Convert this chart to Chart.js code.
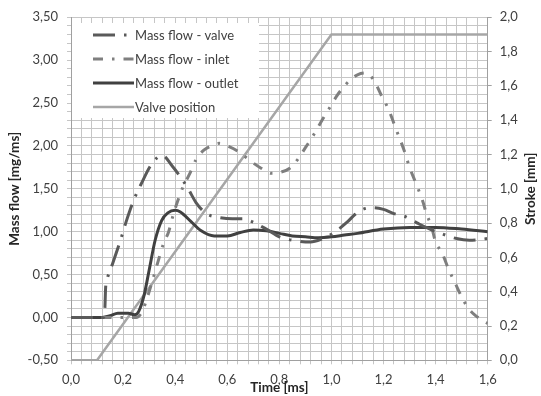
<!DOCTYPE html>
<html>
<head>
<meta charset="utf-8">
<script src="https://cdn.jsdelivr.net/npm/chart.js@4/dist/chart.umd.min.js"></script>
<style>
html,body{margin:0;padding:0;background:#fff;}
#wrap{width:541px;height:396px;position:relative;}
</style>
</head>
<body>
<div id="wrap"><canvas id="c" width="541" height="396"></canvas></div>
<script>
// ---- data ----
const seriesNames = ['Mass flow - valve', 'Mass flow - inlet', 'Mass flow - outlet', 'Valve position'];

const valveT = [0, 0.125, 0.13, 0.133, 0.14, 0.16, 0.19, 0.21, 0.24, 0.27, 0.31, 0.35, 0.39, 0.42, 0.45, 0.48, 0.52, 0.56, 0.62, 0.66, 0.70, 0.75, 0.80, 0.85, 0.92, 0.96, 1.00, 1.06, 1.09, 1.12, 1.16, 1.20, 1.24, 1.28, 1.33, 1.37, 1.42, 1.48, 1.53, 1.60];
const valveV = [0, 0, 0.1, 0.35, 0.46, 0.63, 0.9, 1.1, 1.36, 1.56, 1.79, 1.89, 1.76, 1.64, 1.5, 1.34, 1.21, 1.17, 1.15, 1.15, 1.11, 1.03, 0.94, 0.9, 0.88, 0.91, 0.97, 1.11, 1.2, 1.26, 1.28, 1.26, 1.21, 1.18, 1.1, 1.04, 0.98, 0.92, 0.9, 0.92];

const inletT = [0, 0.2, 0.25, 0.27, 0.285, 0.31, 0.335, 0.355, 0.375, 0.39, 0.41, 0.43, 0.455, 0.48, 0.51, 0.54, 0.57, 0.60, 0.64, 0.70, 0.73, 0.77, 0.80, 0.84, 0.87, 0.90, 0.93, 0.96, 0.99, 1.02, 1.05, 1.08, 1.10, 1.13, 1.16, 1.19, 1.22, 1.25, 1.28, 1.30, 1.325, 1.35, 1.365, 1.385, 1.40, 1.425, 1.45, 1.475, 1.50, 1.525, 1.55, 1.60];
const inletV = [0, 0, 0, 0.05, 0.16, 0.4, 0.66, 0.86, 1.0, 1.17, 1.36, 1.52, 1.67, 1.84, 1.95, 2.0, 2.03, 2.0, 1.94, 1.8, 1.74, 1.68, 1.69, 1.74, 1.84, 1.98, 2.12, 2.28, 2.43, 2.58, 2.7, 2.79, 2.83, 2.85, 2.78, 2.6, 2.42, 2.18, 1.94, 1.75, 1.56, 1.36, 1.21, 1.05, 0.88, 0.75, 0.56, 0.4, 0.24, 0.11, 0.03, -0.07];

const outletT = [0, 0.12, 0.15, 0.18, 0.22, 0.245, 0.26, 0.28, 0.30, 0.323, 0.348, 0.372, 0.40, 0.42, 0.46, 0.50, 0.55, 0.60, 0.65, 0.70, 0.75, 0.80, 0.85, 0.90, 0.95, 1.00, 1.05, 1.10, 1.20, 1.30, 1.40, 1.50, 1.60];
const outletV = [0, 0, 0.02, 0.05, 0.05, 0.03, 0.07, 0.25, 0.55, 0.9, 1.13, 1.22, 1.25, 1.23, 1.12, 1.01, 0.95, 0.95, 0.99, 1.02, 1.01, 0.98, 0.95, 0.94, 0.93, 0.94, 0.96, 0.98, 1.03, 1.05, 1.05, 1.03, 1.00];

const strokeT = [0, 0.1, 1.0, 1.6];
const strokeV = [0, 0, 1.9, 1.9];

const xTickLabels = ['0,0', '0,2', '0,4', '0,6', '0,8', '1,0', '1,2', '1,4', '1,6'];
const yTickLabels = ['-0,50', '0,00', '0,50', '1,00', '1,50', '2,00', '2,50', '3,00', '3,50'];
const y2TickLabels = ['0,0', '0,2', '0,4', '0,6', '0,8', '1,0', '1,2', '1,4', '1,6', '1,8', '2,0'];

const xTitle = 'Time [ms]';
const yTitle = 'Mass flow [mg/ms]';
const y2Title = 'Stroke [mm]';

// ---- styles ----
const colValve = '#5a5a5a', colInlet = '#7f7f7f', colOutlet = '#404040', colStroke = '#a6a6a6';
const dashValve = [22, 9, 2.5, 9];
const dashInlet = [10, 9, 2.5, 9];
const FONT = 'Lato, "Open Sans", sans-serif';
const gridCol = '#c6c6c6';

const pts = (T, V) => T.map((t, i) => ({x: t, y: V[i]}));

function makeTicks(min, step, n) {
  const a = [];
  for (let i = 0; i <= n; i++) a.push({value: +(min + i * step).toFixed(6)});
  return a;
}

const overlay = {
  id: 'overlay',
  beforeDatasetsDraw(chart) {
    const ctx = chart.ctx;
    ctx.save();
    ctx.fillStyle = '#ffffff';
    ctx.fillRect(72, 23, 187, 95);
    const items = [
      {c: colValve, d: dashValve, w: 3},
      {c: colInlet, d: dashInlet, w: 3},
      {c: colOutlet, d: [], w: 3},
      {c: colStroke, d: [], w: 2.5}
    ];
    const ys = [35, 59, 83, 107];
    items.forEach((it, i) => {
      ctx.beginPath();
      ctx.setLineDash(it.d);
      ctx.lineDashOffset = 0;
      ctx.strokeStyle = it.c;
      ctx.lineWidth = it.w;
      ctx.moveTo(93, ys[i]);
      ctx.lineTo(134, ys[i]);
      ctx.stroke();
      ctx.setLineDash([]);
      ctx.fillStyle = '#404040';
      ctx.font = '13px ' + FONT;
      ctx.textBaseline = 'middle';
      ctx.textAlign = 'left';
      ctx.fillText(seriesNames[i], 135, ys[i] + 0.5);
    });
    ctx.restore();
  },
  afterDraw(chart) {
    const ctx = chart.ctx;
    const a = chart.chartArea;
    ctx.save();
    ctx.fillStyle = '#262626';
    ctx.font = 'bold 13.5px ' + FONT;
    ctx.textAlign = 'center';
    ctx.textBaseline = 'middle';
    ctx.fillText(xTitle, (a.left + a.right) / 2, 388);
    const cy = (a.top + a.bottom) / 2;
    ctx.save();
    ctx.translate(15, cy);
    ctx.rotate(-Math.PI / 2);
    ctx.fillText(yTitle, 0, 0);
    ctx.restore();
    ctx.save();
    ctx.translate(531, cy);
    ctx.rotate(-Math.PI / 2);
    ctx.fillText(y2Title, 0, 0);
    ctx.restore();
    ctx.restore();
  }
};

const tickFont = {family: FONT, size: 13};

new Chart(document.getElementById('c'), {
  type: 'line',
  data: {
    datasets: [
      {label: seriesNames[0], data: pts(valveT, valveV), yAxisID: 'y', borderColor: colValve, borderWidth: 3, borderDash: dashValve, pointRadius: 0, cubicInterpolationMode: 'monotone', fill: false},
      {label: seriesNames[1], data: pts(inletT, inletV), yAxisID: 'y', borderColor: colInlet, borderWidth: 3, borderDash: dashInlet, pointRadius: 0, cubicInterpolationMode: 'monotone', fill: false},
      {label: seriesNames[2], data: pts(outletT, outletV), yAxisID: 'y', borderColor: colOutlet, borderWidth: 3, pointRadius: 0, cubicInterpolationMode: 'monotone', fill: false},
      {label: seriesNames[3], data: pts(strokeT, strokeV), yAxisID: 'y2', borderColor: colStroke, borderWidth: 2.5, pointRadius: 0, tension: 0, fill: false}
    ]
  },
  options: {
    responsive: false,
    animation: false,
    devicePixelRatio: 1,
    layout: {padding: {top: 17.3, left: 0, right: 0, bottom: 0}},
    plugins: {legend: {display: false}, tooltip: {enabled: false}},
    scales: {
      x: {
        type: 'linear', min: 0, max: 1.6,
        afterBuildTicks: s => { s.ticks = makeTicks(0, 0.04, 40); },
        ticks: {autoSkip: false, maxRotation: 0, padding: 8, color: '#404040', font: tickFont,
          callback: (v, i) => (i % 5 === 0 ? xTickLabels[i / 5] : '')},
        grid: {color: gridCol, tickLength: 4, lineWidth: 1},
        border: {color: '#a0a0a0'},
        afterFit: s => { s.height = 35.7; }
      },
      y: {
        type: 'linear', position: 'left', min: -0.5, max: 3.5,
        afterBuildTicks: s => { s.ticks = makeTicks(-0.5, 0.1, 40); },
        ticks: {autoSkip: false, padding: 9, color: '#404040', font: tickFont,
          callback: (v, i) => (i % 5 === 0 ? yTickLabels[i / 5] : '')},
        grid: {color: gridCol, tickLength: 4, lineWidth: 1},
        border: {color: '#a0a0a0'},
        afterFit: s => { s.width = 71; }
      },
      y2: {
        type: 'linear', position: 'right', min: 0, max: 2,
        afterBuildTicks: s => { s.ticks = makeTicks(0, 0.2, 10); },
        ticks: {autoSkip: false, padding: 8, color: '#404040', font: tickFont,
          callback: (v, i) => y2TickLabels[i]},
        grid: {drawOnChartArea: false, color: '#a0a0a0', tickLength: 4},
        border: {color: '#a0a0a0'},
        afterFit: s => { s.width = 53.3; }
      }
    }
  },
  plugins: [overlay]
});
</script>
</body>
</html>
